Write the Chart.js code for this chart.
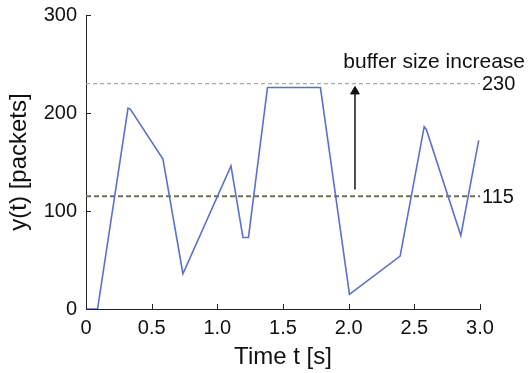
<!DOCTYPE html>
<html>
<head>
<meta charset="utf-8">
<script src="https://cdn.jsdelivr.net/npm/chart.js@4/dist/chart.umd.min.js"></script>
<style>
  html, body { margin: 0; padding: 0; background: #fff; }
  #wrap { width: 531px; height: 373px; position: relative; }
</style>
</head>
<body>
<div id="wrap"><canvas id="c" width="531" height="373"></canvas></div>
<script>
// Queue length y(t) over time
const timeS   = [0, 0.088, 0.32, 0.337, 0.586, 0.738, 1.104, 1.195, 1.237, 1.382, 1.785, 2.006, 2.392, 2.575, 2.592, 2.854, 2.99];
const packets = [0, 0, 205, 204, 153, 36, 146, 73, 73, 226, 226, 15, 54, 186, 183, 75, 172];

// Buffer thresholds
const lowBuffer = 115;
const highBuffer = 230;

// Arrow for the buffer increase
const arrowT = 2.048;
const arrowFrom = 122;
const arrowTo = 222;
const arrowLabel = 'buffer size increase';

const xTicks = [0, 0.5, 1.0, 1.5, 2.0, 2.5, 3.0];
const yTicks = [0, 100, 200, 300];

const FONT = '"Liberation Sans", Arial, Helvetica, sans-serif';

const toXY = (xs, ys) => xs.map((x, i) => ({ x, y: ys[i] }));

// Inward tick marks and threshold labels
const decor = {
  id: 'decor',
  afterDraw(chart) {
    const { ctx, scales: { x, y }, chartArea } = chart;
    ctx.save();
    ctx.strokeStyle = '#222';
    ctx.lineWidth = 1;
    ctx.beginPath();
    xTicks.forEach(v => {
      const px = Math.round(x.getPixelForValue(v)) + 0.5;
      ctx.moveTo(px, chartArea.bottom);
      ctx.lineTo(px, chartArea.bottom - 5);
    });
    yTicks.forEach(v => {
      const py = Math.round(y.getPixelForValue(v)) + 0.5;
      ctx.moveTo(chartArea.left, py);
      ctx.lineTo(chartArea.left + 5, py);
    });
    ctx.stroke();

    ctx.fillStyle = '#111';
    ctx.font = '20px ' + FONT;
    ctx.textBaseline = 'middle';
    ctx.textAlign = 'left';
    ctx.fillText(String(highBuffer), chartArea.right + 2, y.getPixelForValue(highBuffer) + 1);
    ctx.fillText(String(lowBuffer), chartArea.right + 2, y.getPixelForValue(lowBuffer) + 1);
    ctx.font = '21px ' + FONT;
    ctx.textAlign = 'right';
    ctx.fillText(arrowLabel, 525, y.getPixelForValue(252));
    ctx.restore();
  }
};

new Chart(document.getElementById('c'), {
  type: 'line',
  data: {
    datasets: [
      {
        data: toXY(timeS, packets),
        borderColor: '#5b6fcf',
        borderWidth: 1.6,
        pointRadius: 0,
        tension: 0,
        order: 0
      },
      {
        data: toXY([0, 3], [highBuffer, highBuffer]),
        borderColor: '#a8a8a8',
        borderWidth: 1.2,
        borderDash: [4, 3],
        pointRadius: 0,
        order: 2
      },
      {
        data: toXY([0, 3], [lowBuffer, lowBuffer]),
        borderColor: '#707052',
        borderWidth: 2,
        borderDash: [5, 3],
        pointRadius: 0,
        order: 2
      },
      {
        data: toXY([arrowT, arrowT], [arrowFrom, arrowTo]),
        borderColor: '#222',
        borderWidth: 1.6,
        pointRadius: [0, 5],
        pointStyle: 'triangle',
        pointBackgroundColor: '#111',
        pointBorderColor: '#111',
        pointBorderWidth: 1,
        order: 1
      }
    ]
  },
  options: {
    responsive: false,
    animation: false,
    events: [],
    layout: { padding: { top: 15, right: 51, left: 0, bottom: 0 } },
    plugins: { legend: { display: false }, tooltip: { enabled: false } },
    scales: {
      x: {
        type: 'linear',
        min: 0, max: 3,
        afterFit(s) { s.height = 64; },
        afterBuildTicks(s) { s.ticks = xTicks.map(v => ({ value: v })); },
        grid: { display: false },
        border: { display: true, color: '#222', width: 1 },
        ticks: {
          color: '#111',
          font: { family: FONT, size: 20 },
          padding: -1,
          maxRotation: 0,
          callback: v => v === 0 ? '0' : v.toFixed(1)
        },
        title: {
          display: true,
          text: 'Time t [s]',
          color: '#111',
          font: { family: FONT, size: 24 },
          padding: { top: 2, bottom: 1 }
        }
      },
      y: {
        type: 'linear',
        min: 0, max: 300,
        afterFit(s) { s.width = 86; },
        afterBuildTicks(s) { s.ticks = yTicks.map(v => ({ value: v })); },
        grid: { display: false },
        border: { display: true, color: '#222', width: 1 },
        ticks: {
          color: '#111',
          font: { family: FONT, size: 20 },
          padding: 1,
          callback: v => String(v)
        },
        title: {
          display: true,
          text: 'y(t) [packets]',
          color: '#111',
          font: { family: FONT, size: 24 },
          padding: { top: 5, bottom: 0 }
        }
      }
    }
  },
  plugins: [decor]
});
</script>
</body>
</html>
